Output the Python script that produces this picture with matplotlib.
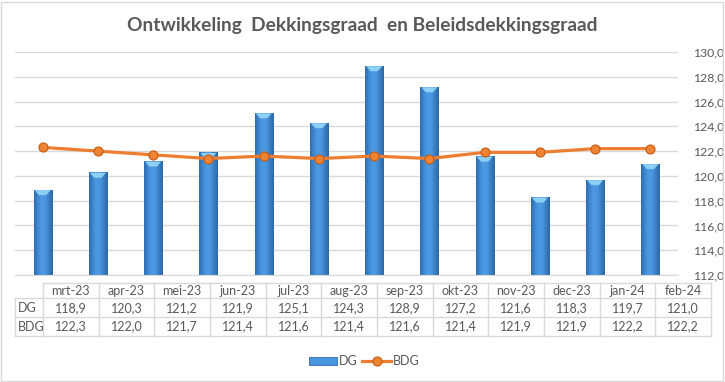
import numpy as np
import matplotlib.pyplot as plt
from matplotlib.patches import Rectangle, Polygon
from matplotlib.lines import Line2D
from matplotlib.colors import LinearSegmentedColormap

plt.rcParams['font.family'] = ['Lato', 'DejaVu Sans']

months = ['mrt-23', 'apr-23', 'mei-23', 'jun-23', 'jul-23', 'aug-23',
          'sep-23', 'okt-23', 'nov-23', 'dec-23', 'jan-24', 'feb-24']
dg = [118.9, 120.3, 121.2, 121.9, 125.1, 124.3, 128.9, 127.2, 121.6, 118.3, 119.7, 121.0]
bdg = [122.3, 122.0, 121.7, 121.4, 121.6, 121.4, 121.6, 121.4, 121.9, 121.9, 122.2, 122.2]
yticks = np.arange(112, 131, 2)

W, H = 725, 382
txt = '#595959'
grid = '#D9D9D9'

fig = plt.figure(figsize=(W / 100, H / 100), dpi=100)
fig.patch.set_facecolor('white')

# border of the chart
fig.add_artist(Rectangle((1 / W, 1 / H), (W - 3) / W, (H - 3) / H, transform=fig.transFigure,
                         fill=False, edgecolor=grid, lw=1))

fig.text(362 / W, 1 - 25 / H, 'Ontwikkeling  Dekkingsgraad  en Beleidsdekkingsgraad',
         ha='center', va='center', fontsize=13.8, fontweight='bold', color=txt)

# main plot area
ax = fig.add_axes([15 / W, 1 - 275 / H, (678 - 15) / W, (275 - 52) / H])
x = np.arange(len(months))
bars = ax.bar(x, [v - 112 for v in dg], bottom=112, width=0.33, color='#4690DA',
              edgecolor='#2F6CAE', lw=0.6, zorder=2)

# cylinder shading on the bars
cmap = LinearSegmentedColormap.from_list('cyl', ['#2F6CAE', '#3F88D2', '#4C9BE4', '#4A96DE', '#3A7EC2', '#2E67A6'])
grad = np.linspace(0, 1, 64).reshape(1, -1)
for b in bars:
    x0, w, y0, h = b.get_x(), b.get_width(), b.get_y(), b.get_height()
    im = ax.imshow(grad, cmap=cmap, extent=(x0, x0 + w, y0, y0 + h), aspect='auto', zorder=2.1)
    im.set_clip_path(b)
    top = y0 + h
    ax.add_patch(Polygon([(x0 + w * 0.06, top - 0.05), (x0 + w * 0.94, top - 0.05),
                          (x0 + w * 0.7, top - 0.45), (x0 + w * 0.3, top - 0.45)],
                         closed=True, color='#8DD0F6', lw=0, zorder=2.2))

ax.plot(x, bdg, color='#ED7D31', lw=2.3, marker='o', markersize=6.5,
        markerfacecolor='#EE8433', markeredgecolor='#C55A11', markeredgewidth=0.8, zorder=3)

ax.set_xlim(-0.5, len(months) - 0.5)
ax.set_ylim(112, 130)
ax.set_yticks(yticks)
ax.set_yticklabels([f'{v:.1f}'.replace('.', ',') for v in yticks], fontsize=8.8, color=txt)
ax.yaxis.tick_right()
ax.tick_params(axis='y', length=0, pad=11)
ax.set_xticks([])
ax.grid(axis='y', color=grid, lw=1, zorder=0)
ax.set_axisbelow(True)
for s in ['top', 'left', 'right']:
    ax.spines[s].set_visible(False)
ax.spines['bottom'].set_color(grid)

# data table below the plot, in pixel coordinates
tab = fig.add_axes([0, 0, 1, 1], zorder=-1)
tab.set_xlim(0, W)
tab.set_ylim(H, 0)
tab.axis('off')
c0, cw = 43, (711 - 43) / len(months)
rows = [283.3, 298.3, 317.3, 336]
lk = dict(color=grid, lw=1)
tab.plot([c0, 711], [rows[0]] * 2, **lk)
for r in rows[1:]:
    tab.plot([15, 711], [r] * 2, **lk)
tab.plot([15, 15], [rows[1], rows[3]], **lk)
for i in range(len(months) + 1):
    tab.plot([c0 + i * cw] * 2, [rows[0], rows[3]], **lk)
for i, m in enumerate(months):
    cx = c0 + (i + 0.5) * cw
    tab.text(cx, (rows[0] + rows[1]) / 2, m, ha='center', va='center', fontsize=9, color=txt)
    tab.text(cx, (rows[1] + rows[2]) / 2, f'{dg[i]:.1f}'.replace('.', ','), ha='center', va='center', fontsize=9, color=txt)
    tab.text(cx, (rows[2] + rows[3]) / 2, f'{bdg[i]:.1f}'.replace('.', ','), ha='center', va='center', fontsize=9, color=txt)
tab.text(18, (rows[1] + rows[2]) / 2, 'DG', ha='left', va='center', fontsize=9, color=txt)
tab.text(18, (rows[2] + rows[3]) / 2, 'BDG', ha='left', va='center', fontsize=9, color=txt)

handles = [Rectangle((0, 0), 1, 1, facecolor='#4A96DE', edgecolor='#2F6CAE', lw=0.6),
           Line2D([], [], color='#ED7D31', lw=2.3, marker='o', markersize=6.5,
                  markerfacecolor='#EE8433', markeredgecolor='#C55A11', markeredgewidth=0.8)]
fig.legend(handles, ['DG', 'BDG'], loc='center', bbox_to_anchor=(364 / W, 1 - 361 / H), ncol=2,
           frameon=False, fontsize=9, handlelength=2.3, handleheight=0.6, handletextpad=0.1,
           columnspacing=0.4, labelcolor=txt)

fig.savefig('out.png', dpi=100)
